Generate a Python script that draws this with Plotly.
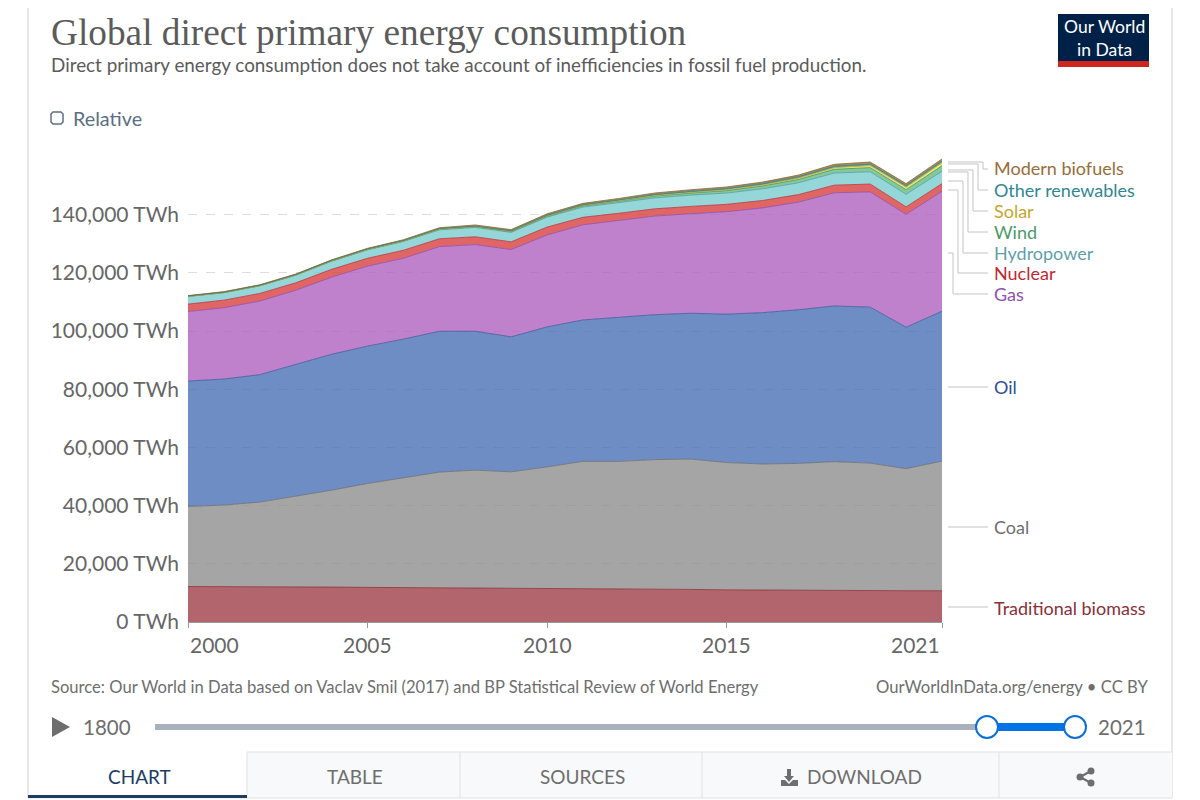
import plotly.graph_objects as go

years = list(range(2000, 2022))

biomass = [12200,12200,12150,12100,12000,11900,11850,11750,11700,11650,11600,11500,11400,11300,11200,11050,10950,10900,10850,10800,10750,10750]
coal = [27500,28000,29050,31100,33300,35700,37750,39750,40500,39950,41700,43700,43800,44500,44800,43750,43350,43600,44250,43800,41950,44550]
oil = [43100,43300,43800,45300,46700,47200,47600,48400,47700,46400,48100,48600,49500,49800,50100,51000,52000,52800,53500,53600,48600,51500]
gas = [23900,24500,25300,25500,26500,27500,27800,29100,29800,30000,31600,32700,33300,33900,34200,35200,36000,37000,38900,39600,38800,41200]
nuclear = [2540,2600,2610,2560,2690,2700,2740,2690,2680,2640,2710,2580,2460,2480,2510,2530,2550,2570,2620,2700,2550,2650]
hydro = [2620,2580,2610,2600,2800,2900,3030,3080,3220,3240,3420,3500,3650,3780,3880,3880,4020,4060,4170,4220,4340,4270]
wind = [30,38,52,63,85,104,133,170,220,276,346,436,523,635,706,831,960,1130,1270,1420,1590,1860]
solar = [1,2,2,3,4,4,6,8,12,21,32,63,100,140,197,256,329,445,574,704,856,1030]
other = [180,190,200,210,220,230,240,250,260,270,300,320,340,370,390,410,420,450,470,500,520,560]
biofuels = [100,110,120,130,150,180,220,290,350,390,450,460,480,520,560,590,590,620,680,730,690,760]

names = ["Traditional biomass","Coal","Oil","Gas","Nuclear","Hydropower","Wind","Solar","Other renewables","Modern biofuels"]
values = [biomass,coal,oil,gas,nuclear,hydro,wind,solar,other,biofuels]
fills = ["160,62,72","143,143,143","74,112,181","175,96,191","216,64,64","122,204,208","102,188,130","234,228,74","50,145,145","146,110,54"]
edges = ["#883039","#6d6e70","#3c5a9c","#8c4ea9","#b8323c","#4f9ea6","#3f8f5a","#c4a83a","#2c7f85","#8a6a36"]

y_ticks = [0,20000,40000,60000,80000,100000,120000,140000]
y_tick_labels = ["0 TWh","20,000 TWh","40,000 TWh","60,000 TWh","80,000 TWh","100,000 TWh","120,000 TWh","140,000 TWh"]
x_ticks = [2000,2005,2010,2015,2021]
x_anchors = ["left","center","center","center","right"]

# labels on the right: text, text colour, label y in px
labels = [("Modern biofuels","#996d39",169),("Other renewables","#2f8790",190),("Solar","#c4a62f",211),
          ("Wind","#4c9a68",232),("Hydropower","#5f9fa8",253),("Nuclear","#c0282f",273),("Gas","#9050ad",294),
          ("Oil","#2f4f95",387),("Coal","#6d6e70",527),("Traditional biomass","#883039",608)]
# connector: start y, elbow x (None = straight line)
connectors = [(162,983),(164,978),(170,973),(172,968),(181,963),(190,958),(253,953),(387,None),(527,None),(607,None)]

# page has an 8px body margin, all px below are page positions
PAGE = 8
L, R, T, B = 188, 942, 150, 622
def px(x):
    return (x - L) / (R - L)
def py(y):
    return (B - y) / (B - T)

fig = go.Figure()
for name, vals, fill, edge in zip(names, values, fills, edges):
    fig.add_trace(go.Scatter(x=years, y=vals, name=name, mode="lines", stackgroup="one",
                             fillcolor="rgba(%s,0.8)" % fill, line=dict(color=edge, width=0.8)))

shapes = []
annots = []

def text(x, y, s, size=15, color="#5b5b5b", anchor="left", font="Lato"):
    annots.append(dict(x=px(x), y=py(y), xref="paper", yref="paper", text=s, showarrow=False,
                       xanchor=anchor, yanchor="middle", xshift=-2 if anchor == "left" else 1,
                       font=dict(family=font, size=size, color=color)))

def rect(x0, y0, x1, y1, fill, line=None, width=1):
    shapes.append(dict(type="rect", xref="paper", yref="paper", x0=px(x0), x1=px(x1), y0=py(y0), y1=py(y1),
                       fillcolor=fill, line=dict(color=line or fill, width=width if line else 0)))

def seg(x0, y0, x1, y1, color="#c4c4c4", width=1):
    shapes.append(dict(type="line", xref="paper", yref="paper", x0=px(x0), x1=px(x1), y0=py(y0), y1=py(y1),
                       line=dict(color=color, width=width)))

def path(points, fill, line=None, width=0, closed=True):
    d = "M" + " L".join("%.5f,%.5f" % (px(a), py(b)) for a, b in points) + (" Z" if closed else "")
    shapes.append(dict(type="path", xref="paper", yref="paper", path=d, fillcolor=fill,
                       line=dict(color=line or fill, width=width)))

def circle(cx, cy, r, fill, line=None, width=0):
    shapes.append(dict(type="circle", xref="paper", yref="paper", x0=px(cx-r), x1=px(cx+r), y0=py(cy+r), y1=py(cy-r),
                       fillcolor=fill, line=dict(color=line or fill, width=width)))

# card edges
seg(28, 0, 28, 798, "#e8e8e8", 2)
seg(1172, 0, 1172, 798, "#e8e8e8", 2)

# header
text(51, 32, "Global direct primary energy consumption", 37.3, "#5b5b5b", font="Liberation Serif")
text(51, 65, "Direct primary energy consumption does not take account of inefficiencies in fossil fuel production.", 18.85)
# checkbox with rounded corners
cb = [(53,112),(61,112),(63,114),(63,122),(61,124),(53,124),(51,122),(51,114)]
path(cb, "white", "#5b6f85", 1.5)
text(73, 118, "Relative", 19.8, "#5b6f85")

# logo
rect(1058, 14, 1149, 61, "#002147")
rect(1058, 61, 1149, 67, "#ce261e")
text(1103.5, 38, "Our World<br>in Data", 17.5, "white", "center")

# series labels and connectors
for (s, color, ly), (sy, ex) in zip(labels, connectors):
    text(994, ly-0.5, s, 18, color)
    if ex is None:
        seg(948, sy, 988, sy)
    else:
        path([(948, sy), (ex, sy), (ex, ly), (988, ly)], "rgba(0,0,0,0)", "#c4c4c4", 1, closed=False)

# x tick labels sit inside the axis ends
for yr, anchor in zip(x_ticks, x_anchors):
    annots.append(dict(x=yr, y=py(644), xref="x", yref="paper", text=str(yr), showarrow=False, xanchor=anchor,
                       yanchor="middle", font=dict(family="Lato", size=21, color="#666666")))

# footer
text(51, 687, "Source: Our World in Data based on Vaclav Smil (2017) and BP Statistical Review of World Energy", 16.6, "#6e6e6e")
text(1149, 687, "OurWorldInData.org/energy • CC BY", 16.7, "#6e6e6e", "right")

# timeline
path([(52, 717), (70, 727), (52, 737)], "#6e6e6e")
text(83, 727, "1800", 20.5, "#6e6e6e")
text(1098, 727, "2021", 20.5, "#6e6e6e")
rect(155, 724, 987, 730, "#a9b1bd")
rect(987, 723, 1075, 731, "#0073e6")
circle(987, 727, 11, "white", "#0a6fd6", 2)
circle(1075, 727, 11, "white", "#0a6fd6", 2)

# tabs
rect(247, 752, 1172, 798, "#f8f9fa")
seg(247, 752, 1172, 752, "#dfe1e4")
seg(28, 798, 1172, 798, "#dfe1e4")
for sep in [247, 460, 702, 999]:
    seg(sep, 752, sep, 798, "#dfe1e4")
rect(28, 795, 247, 798, "#1d3d63")
text(138, 776, "CHART", 19, "#1d3d63", "center")
text(354, 776, "TABLE", 19, "#6e6e6e", "center")
text(581, 776, "SOURCES", 19, "#6e6e6e", "center")
text(807, 776, "DOWNLOAD", 19, "#6e6e6e", "left")

# download icon
path([(787, 769), (791, 769), (791, 776), (794, 776), (789, 782), (784, 776), (787, 776)], "#6e6e6e")
path([(781, 780), (785, 780), (789, 784), (793, 780), (798, 780), (798, 786), (781, 786)], "#6e6e6e")
# share icon
seg(1080, 777, 1091, 771, "#6e6e6e", 2)
seg(1080, 777, 1091, 783, "#6e6e6e", 2)
circle(1080, 777, 3.5, "#6e6e6e")
circle(1091, 771, 3.5, "#6e6e6e")
circle(1091, 783, 3.5, "#6e6e6e")

fig.update_layout(
    width=1200-PAGE, height=800-PAGE, showlegend=False, paper_bgcolor="white", plot_bgcolor="white",
    margin=dict(l=L-PAGE, r=1200-R, t=T-PAGE, b=800-B, autoexpand=False),
    shapes=shapes, annotations=annots,
    font=dict(family="Lato"),
)
fig.update_xaxes(range=[2000, 2021], tickvals=x_ticks, showticklabels=False, showgrid=False, zeroline=False,
                 showline=True, linecolor="#999999", linewidth=1, ticks="outside", ticklen=5, tickcolor="#999999")
fig.update_yaxes(range=[0, (B-T)/58.2*20000], tickvals=y_ticks, ticktext=y_tick_labels,
                 tickfont=dict(family="Lato", size=21, color="#666666"), showgrid=True, gridcolor="#dddddd",
                 griddash="dash", gridwidth=1, zeroline=False, showline=False, ticks="", ticklabelstandoff=8)

fig.write_html("out.html")
